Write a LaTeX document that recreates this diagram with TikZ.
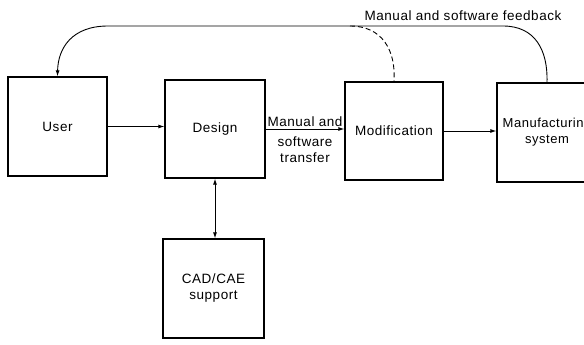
\documentclass[tikz,border=0pt]{standalone}
\usepackage{fontspec}
\setmainfont{Liberation Sans}[LetterSpace=4]
\usetikzlibrary{arrows.meta}
\begin{document}
\begin{tikzpicture}[x=1pt,y=-1pt,
  box/.style={draw,line width=1.3pt,inner sep=0pt,align=center,font=\fontsize{13.5}{16}\selectfont},
  conn/.style={line width=0.9pt},
  arr/.style={conn,-{Latex[length=6pt,width=4pt]}},
  lbl/.style={font=\fontsize{13.5}{16.5}\selectfont,align=center,inner sep=1pt}]
\useasboundingbox (0,0) rectangle (584,345);
\begin{scope}
\clip (0,0) rectangle (584,345);
\node[box,minimum width=99pt,minimum height=99pt] (user) at (57.5,126.5) {User};
\node[box,minimum width=100pt,minimum height=98pt] (design) at (215,129) {Design};
\node[box,minimum width=98pt,minimum height=98pt] (mod) at (394,131) {Modification};
\node[box,minimum width=100pt,minimum height=99pt,font=\fontsize{13}{16}\selectfont] (manuf) at (547,132.5) {Manufacturing\\system};
\node[box,minimum width=101pt,minimum height=99pt] (cad) at (213.5,288.5) {CAD/CAE\\support};
\end{scope}
\draw[arr] (user.east) -- (user.east -| design.west);
\draw[arr] (design.east) -- node[lbl,above=1pt,pos=0.5] (l1) {Manual and} node[lbl,below=6pt,pos=0.5] (l2) {software\\transfer} (design.east -| mod.west);
\draw[arr] (mod.east) -- (mod.east -| manuf.west);
\draw[conn,{Latex[length=6pt,width=4pt]}-{Latex[length=6pt,width=4pt]}] (design.south) -- (design.south |- cad.north);
\coordinate (tr) at (503,26);
\coordinate (tl) at (108,26);
\coordinate (td) at (350,26);
\draw[arr] (manuf.north) .. controls (548,50) and (535,26) .. (tr) -- (tl) .. controls (72,26) and (58,48) .. (user.north);
\draw[conn,dashed,dash pattern=on 5pt off 3pt] (td) .. controls (382,26) and (396,50) .. (mod.north);
\node[lbl] (fb) at (463,16) {Manual and software feedback};
\end{tikzpicture}
\end{document}
